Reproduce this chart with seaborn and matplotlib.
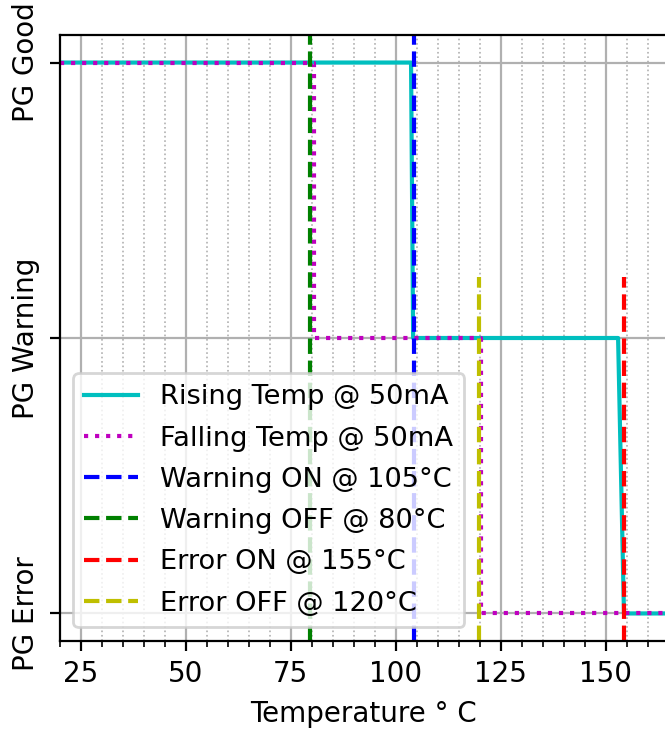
import matplotlib
matplotlib.use("Agg")
import matplotlib.pyplot as plt
from matplotlib.ticker import MultipleLocator
import seaborn as sns
import numpy as np

# Data
rising_temp = [20, 103.7, 104.2, 153.0, 154.4, 165]
rising_state = [2, 2, 1, 1, 0, 0]
falling_temp = [20, 80.6, 80.6, 120.4, 120.4, 165]
falling_state = [2, 2, 1, 1, 0, 0]
thresholds = [104.4, 79.6, 154.5, 119.8]
threshold_labels = ["Warning ON @ 105°C", "Warning OFF @ 80°C",
                    "Error ON @ 155°C", "Error OFF @ 120°C"]
threshold_colors = ["b", "g", "r", "y"]
threshold_ymax = [1.0, 1.0, 0.6, 0.6]
state_ticks = [0, 1, 2]
state_labels = ["PG Error", "PG Warning", "PG Good"]
x_ticks = [25, 50, 75, 100, 125, 150]

fig = plt.figure(figsize=(6.65 / 2, 7.29 / 2), dpi=200)
ax = fig.add_axes([59.5 / 665, 1 - 641 / 729, 609 / 665, 606 / 729])

sns.lineplot(x=rising_temp, y=rising_state, estimator=None, sort=False,
             color="c", lw=1.5, label="Rising Temp @ 50mA", ax=ax)
sns.lineplot(x=falling_temp, y=falling_state, estimator=None, sort=False,
             color="m", lw=1.5, linestyle=":", label="Falling Temp @ 50mA", ax=ax)
for t, lab, c, ym in zip(thresholds, threshold_labels, threshold_colors, threshold_ymax):
    ax.axvline(t, ymax=ym, color=c, linestyle="--", lw=1.5, label=lab)

ax.set_xlim(20, 165)
ax.set_ylim(-0.1, 2.1)
ax.set_xticks(x_ticks)
ax.xaxis.set_minor_locator(MultipleLocator(5))
ax.set_yticks(state_ticks)
ax.set_yticklabels(state_labels, rotation=90, va="center")
ax.grid(which="major", color="#b0b0b0", lw=0.8)
ax.grid(which="minor", axis="x", color="#b0b0b0", lw=0.6, linestyle=":")
ax.set_axisbelow(True)
ax.set_xlabel("Temperature ° C")
ax.legend(loc="lower left", fontsize=9.8, labelspacing=0.56)

fig.savefig("out.png", dpi=200)
